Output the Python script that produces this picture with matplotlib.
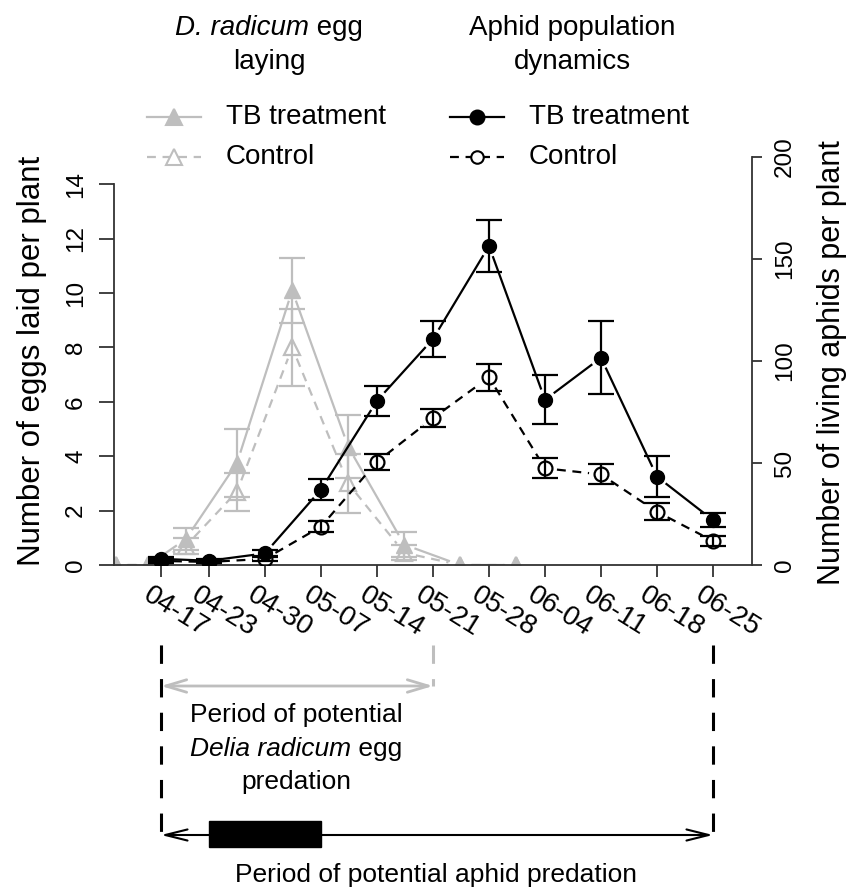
import numpy as np
import matplotlib
matplotlib.use("Agg")
import matplotlib.pyplot as plt
import matplotlib.transforms as mtransforms
from matplotlib.lines import Line2D
from matplotlib.patches import Rectangle

plt.rcParams['font.family'] = ['Liberation Sans', 'DejaVu Sans']

# ---------------- data ----------------
date_labels = ['04-17', '04-23', '04-30', '05-07', '05-14', '05-21',
               '05-28', '06-04', '06-11', '06-18', '06-25']
aphid_days = [0, 6, 13, 20, 27, 34, 41, 48, 55, 62, 69]          # days after 04-17
aphid_tb = [3.0, 2.1, 5.7, 37.0, 80.5, 110.8, 156.4, 81.0, 101.6, 43.3, 22.0]
aphid_tb_se = [1.0, 0.8, 1.5, 5.0, 7.3, 8.8, 12.8, 12.0, 18.0, 10.2, 3.5]
aphid_ctrl = [2.0, 1.5, 3.0, 18.8, 50.6, 72.0, 92.0, 47.4, 44.4, 26.1, 11.8]
aphid_ctrl_se = [0.8, 0.6, 1.0, 2.7, 4.0, 4.5, 6.7, 4.9, 4.9, 4.1, 2.5]

egg_days = [-5.6, -1.6, 3.1, 9.5, 16.4, 23.4, 30.4, 37.4, 44.4]
egg_tb = [0.0, 0.0, 0.95, 3.75, 10.1, 4.35, 0.75, 0.0, 0.0]
egg_tb_se = [0.0, 0.0, 0.4, 1.25, 1.2, 1.15, 0.45, 0.0, 0.0]
egg_ctrl = [0.0, 0.0, 0.7, 2.7, 8.0, 3.0, 0.45, 0.0, 0.0]
egg_ctrl_se = [0.0, 0.0, 0.3, 0.7, 1.4, 1.1, 0.28, 0.0, 0.0]

series_labels = ['TB treatment', 'Control']

GRAY = '#bebebe'
W, H = 850, 890

fig = plt.figure(figsize=(W / 100, H / 100), dpi=100)
renderer = fig.canvas.get_renderer()


def fx(px):
    return px / W


def fy(py):
    return 1 - py / H


def mixed_text(cx, cy, parts, fontsize):
    """Centre a line made of (text, style) parts at figure pixel (cx, cy)."""
    arts = [fig.text(0, fy(cy), t, fontstyle=s, fontsize=fontsize,
                     ha='left', va='center') for t, s in parts]
    widths = [a.get_window_extent(renderer).width for a in arts]
    x = cx - sum(widths) / 2
    for a, w in zip(arts, widths):
        a.set_x(fx(x))
        x += w


ax = fig.add_axes([fx(114), fy(565), (752 - 114) / W, (565 - 157) / H])
ax2 = ax.twinx()

ax.set_xlim(-5.875, 73.875)
ax.set_ylim(0, 408.0 / 27.19)
ax2.set_ylim(0, 200)

# spines
for a in (ax, ax2):
    a.spines['top'].set_visible(False)
    a.set_facecolor('none')
ax.spines['right'].set_visible(False)
ax2.spines['left'].set_visible(False)
ax2.spines['bottom'].set_visible(False)
SPC = '#333333'
for s in ('left', 'bottom'):
    ax.spines[s].set_color(SPC)
    ax.spines[s].set_linewidth(1.3)
ax2.spines['right'].set_color(SPC)
ax2.spines['right'].set_linewidth(1.3)
ax.spines['left'].set_bounds(0, 14)
ax2.spines['right'].set_bounds(0, 200)

ax.set_yticks(range(0, 15, 2), [str(v) for v in range(0, 15, 2)],
              rotation=90, va='center')
ax2.set_yticks([0, 50, 100, 150, 200], ['0', '50', '100', '150', '200'],
               rotation=90, va='center')
ax.tick_params(axis='y', length=10.8, width=1.3, color=SPC, labelsize=17.5, pad=8.6)
ax2.tick_params(axis='y', length=7.2, width=1.3, color=SPC, labelsize=17.5, pad=8.5)
ax.set_xticks(aphid_days)
ax.set_xticklabels(date_labels, rotation=-32, ha='left', va='top',
                   rotation_mode='anchor', fontsize=20)
ax.tick_params(axis='x', length=8.6, width=1.3, color=SPC, pad=4)
offset = mtransforms.ScaledTranslation(-9 / 100, 0, fig.dpi_scale_trans)
for lbl in ax.get_xticklabels():
    lbl.set_transform(lbl.get_transform() + offset)

ax.set_ylabel('Number of eggs laid per plant', fontsize=22.5)
ax.yaxis.set_label_coords((32 - 114) / 638, 0.5)
ax.yaxis.label.set_va('center')
ax2.set_ylabel('Number of living aphids per plant', fontsize=22, rotation=90)
ax2.yaxis.set_label_coords((832 - 114) / 638, 0.497)
ax2.yaxis.label.set_va('center')


def gapped_line(a, x, y, gap_px, **kw):
    pts = a.transData.transform(np.column_stack([x, y]))
    inv = a.transData.inverted()
    for i in range(len(pts) - 1):
        p0, p1 = pts[i], pts[i + 1]
        d = p1 - p0
        L = np.hypot(d[0], d[1])
        if L <= 2 * gap_px:
            continue
        u = d / L
        seg = inv.transform(np.array([p0 + u * gap_px, p1 - u * gap_px]))
        a.plot(seg[:, 0], seg[:, 1], **kw)


def err(a, x, y, e, color):
    x = np.asarray(x); y = np.asarray(y); e = np.asarray(e)
    m = e > 0
    a.errorbar(x[m], y[m], yerr=e[m], fmt='none', ecolor=color,
               elinewidth=1.6, capsize=9.7, capthick=1.6)


DASH = (0, (4, 3))
LW = 1.6
GAP = 12

# egg laying (left axis, gray)
gapped_line(ax, egg_days, egg_ctrl, GAP, color=GRAY, lw=LW, ls=DASH)
gapped_line(ax, egg_days, egg_tb, GAP, color=GRAY, lw=LW)
err(ax, egg_days, egg_ctrl, egg_ctrl_se, GRAY)
err(ax, egg_days, egg_tb, egg_tb_se, GRAY)
ax.plot(egg_days, egg_ctrl, ls='none', marker='^', ms=12, mfc='none',
        mec=GRAY, mew=1.6)
ax.plot(egg_days, egg_tb, ls='none', marker='^', ms=12, color=GRAY)

# aphids (right axis, black)
gapped_line(ax2, aphid_days, aphid_ctrl, GAP, color='black', lw=LW, ls=DASH)
gapped_line(ax2, aphid_days, aphid_tb, GAP, color='black', lw=LW)
err(ax2, aphid_days, aphid_ctrl, aphid_ctrl_se, 'black')
err(ax2, aphid_days, aphid_tb, aphid_tb_se, 'black')
ax2.plot(aphid_days, aphid_ctrl, ls='none', marker='o', ms=10, mfc='none',
         mec='black', mew=1.6)
ax2.plot(aphid_days, aphid_tb, ls='none', marker='o', ms=10, color='black')

# ---------------- legend (manual) ----------------
mixed_text(269, 28, [('D. radicum', 'italic'), (' egg', 'normal')], 20)
fig.text(fx(269), fy(62), 'laying', ha='center', va='center', fontsize=20)
fig.text(fx(572), fy(28), 'Aphid population', ha='center', va='center', fontsize=20)
fig.text(fx(572), fy(62), 'dynamics', ha='center', va='center', fontsize=20)

rows = [117, 157]
for (x0, x1, col, mk) in [(147, 201, GRAY, '^'), (450, 504, 'black', 'o')]:
    for r, (lab, ls, filled) in enumerate(zip(series_labels, ['-', DASH], [True, False])):
        yy = fy(rows[r])
        fig.add_artist(Line2D([fx(x0), fx(x1)], [yy, yy], color=col, lw=LW, ls=ls))
        ms = 11 if mk == '^' else (10 if filled else 9)
        fig.add_artist(Line2D([fx((x0 + x1) / 2)], [yy], ls='none', marker=mk, ms=ms,
                              mfc=col if filled else 'white', mec=col, mew=1.5))
        fig.text(fx(x1 + 25), yy, lab, ha='left', va='center', fontsize=20)

# ---------------- predation period annotations ----------------
trans = mtransforms.blended_transform_factory(ax.transData, fig.transFigure)
VDASH = (0, (6, 5))
d_start, d_egg_end, d_aphid_end = aphid_days[0], aphid_days[5], aphid_days[10]
for xd in (d_start, d_egg_end):
    ax.plot([xd, xd], [fy(645), fy(686)], transform=trans, clip_on=False,
            color=GRAY, lw=2.2, ls=VDASH)
ax.annotate('', xy=(d_egg_end, fy(686)), xytext=(d_start, fy(686)),
            xycoords=trans, textcoords=trans, annotation_clip=False,
            arrowprops=dict(arrowstyle='<->,head_length=1.5,head_width=0.45',
                            color=GRAY, lw=2, shrinkA=0, shrinkB=0))
for xd in (d_start, d_aphid_end):
    ax.plot([xd, xd], [fy(645), fy(835)], transform=trans, clip_on=False,
            color='black', lw=2.2, ls=VDASH)
ax.annotate('', xy=(d_aphid_end, fy(835)), xytext=(d_start, fy(835)),
            xycoords=trans, textcoords=trans, annotation_clip=False,
            arrowprops=dict(arrowstyle='<->,head_length=1.6,head_width=0.4',
                            color='black', lw=1.5, shrinkA=0, shrinkB=0))
ax.add_patch(Rectangle((aphid_days[1], fy(847)), aphid_days[3] - aphid_days[1],
                       (847 - 821) / H, transform=trans, clip_on=False,
                       facecolor='black', edgecolor='black'))

fig.text(fx(296), fy(715), 'Period of potential', ha='center', va='center', fontsize=19)
mixed_text(296, 749, [('Delia radicum', 'italic'), (' egg', 'normal')], 19)
fig.text(fx(296), fy(782), 'predation', ha='center', va='center', fontsize=19)
fig.text(fx(436), fy(875), 'Period of potential aphid predation', ha='center',
         va='center', fontsize=19)

fig.savefig('out.png', dpi=100)
